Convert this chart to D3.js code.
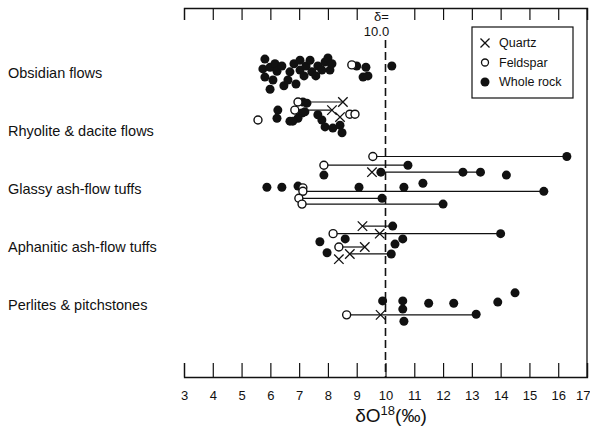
<!DOCTYPE html>
<html>
<head>
<meta charset="utf-8">
<script src="https://cdn.jsdelivr.net/npm/d3@7"></script>
<style>
  body { margin: 0; background: #fff; }
  text { font-family: "Liberation Sans", Arial, sans-serif; fill: #111; }
</style>
</head>
<body>
<div class="chart"></div>
<script>
// categories (top to bottom)
var categories = ["Obsidian flows", "Rhyolite & dacite flows", "Glassy ash-flow tuffs",
                  "Aphanitic ash-flow tuffs", "Perlites & pitchstones"];
var tickValues = [3, 4, 5, 6, 7, 8, 9, 10, 11, 12, 13, 14, 15, 16, 17];

// [category index, delta O18, row within the category]
var wholeRock = [
  [0,5.81,-2.4],[0,5.74,-0.7],[0,5.99,-1.0],[0,6.16,-1.6],[0,6.23,-0.3],[0,5.81,0.7],[0,6.09,1.2],[0,5.99,2.8],
  [0,6.40,-1.2],[0,6.47,2.2],[0,6.68,-0.2],[0,6.61,1.2],[0,6.82,-1.6],[0,7.03,-2.2],[0,7.03,-0.5],[0,6.89,1.9],
  [0,7.24,-1.2],[0,7.17,0.5],[0,7.38,-2.2],[0,7.44,-0.2],[0,7.65,-1.2],[0,7.58,0.5],[0,7.79,-0.5],[0,7.90,-1.9],
  [0,8.00,-2.6],[0,8.07,-0.5],[0,8.14,-1.6],[0,9.00,-1.2],[0,9.32,-1.0],[0,9.22,0.7],[0,9.39,0.5],[0,10.22,-1.2],
  [1,6.26,-3.6],[1,6.23,-2.2],[1,7.13,-5.0],[1,7.27,-4.8],[1,7.20,-3.3],[1,7.10,-3.1],[1,6.96,-2.2],[1,6.68,-1.7],
  [1,6.78,-1.7],[1,7.65,-2.8],[1,7.79,-1.9],[1,7.90,-0.7],[1,8.17,-0.5],[1,8.42,-1.0],[1,8.49,0.3],
  [2,16.3,-5.6],[2,10.78,-4.1],[2,7.86,-2.4],[2,9.84,-2.9],[2,12.69,-2.9],[2,13.3,-2.9],[2,14.2,-2.4],
  [2,5.88,-0.3],[2,6.40,-0.3],[2,6.96,-0.5],[2,9.08,-0.3],[2,10.64,-0.3],[2,11.3,-1.0],[2,15.5,0.4],
  [2,9.88,1.6],[2,12.0,2.6],
  [3,10.25,-3.6],[3,14.0,-2.3],[3,7.72,-0.9],[3,8.6,-1.4],[3,10.6,-1.4],[3,10.33,-0.5],[3,10.2,1.2],[3,7.97,1.0],
  [4,9.9,-0.7],[4,10.6,-0.7],[4,10.6,0.7],[4,11.5,-0.3],[4,12.37,-0.3],[4,13.9,-0.5],[4,14.5,-2.1],
  [4,13.15,1.6],[4,10.64,2.8]
];
var feldspar = [
  [0,8.83,-1.4],
  [1,5.57,-1.9],[1,6.96,-5.0],[1,6.85,-3.6],[1,8.76,-2.9],[1,8.94,-2.9],
  [2,9.56,-5.6],[2,7.86,-4.1],[2,7.13,-0.2],[2,7.13,0.4],[2,6.99,1.6],[2,7.10,2.6],
  [3,8.18,-2.3],[3,8.38,0],
  [4,8.65,1.7]
];
var quartz = [
  [1,8.52,-5.0],[1,8.14,-3.6],[1,8.42,-2.4],
  [2,9.53,-2.9],
  [3,9.2,-3.6],[3,9.8,-2.3],[3,9.28,0],[3,8.38,2.1],[3,8.76,1.2],
  [4,9.83,1.7]
];
// [category index, from, to, row]
var tieLines = [
  [1,6.96,8.52,-5.0],[1,6.85,8.14,-3.6],
  [2,9.56,16.3,-5.6],[2,7.86,10.78,-4.1],[2,9.84,13.3,-2.9],[2,7.13,15.5,0.4],[2,6.99,9.88,1.6],[2,7.10,12.0,2.6],
  [3,9.2,10.25,-3.6],[3,8.18,14.0,-2.3],[3,8.38,9.28,0],[3,8.76,10.2,1.2],
  [4,8.65,13.15,1.7]
];
var legendItems = ["Quartz", "Feldspar", "Whole rock"];

var width = 590, height = 430;
var svg = d3.select("div.chart").append("svg")
  .attr("width", width).attr("height", height);

var x = d3.scaleLinear().domain([3, 17]).range([184, 587]);
var y = d3.scaleLinear().domain([0, 4]).range([73, 305]);
function lane(d) { return y(d[0] + d[2] / 10); }

var frameTop = 8, frameBottom = 377;

// top axis: ticks only (the 10 tick is left out, the δ= label sits there)
var topAxis = svg.append("g")
  .attr("transform", "translate(0," + frameTop + ")")
  .call(d3.axisBottom(x).tickValues(tickValues.filter(function (t) { return t !== 10; }))
    .tickSize(12).tickFormat(""));
// bottom axis with labels
var bottomAxis = svg.append("g")
  .attr("transform", "translate(0," + frameBottom + ")")
  .call(d3.axisTop(x).tickValues(tickValues).tickSize(14).tickFormat(d3.format("d")));
bottomAxis.selectAll("text")
  .attr("y", 14).attr("dy", "0.71em")
  .style("font-size", "13px").style("font-family", "Liberation Sans, Arial, sans-serif");
// last label sits against the right edge
bottomAxis.selectAll(".tick text").filter(function (d) { return d === 17; })
  .attr("text-anchor", "end").attr("x", 3);
[topAxis, bottomAxis].forEach(function (g) {
  g.select(".domain").attr("stroke", "#111").attr("stroke-width", 1.3);
  g.selectAll(".tick line").attr("stroke", "#111").attr("stroke-width", 1.2);
});

// right border
svg.append("line")
  .attr("x1", x(17)).attr("x2", x(17))
  .attr("y1", frameTop).attr("y2", frameBottom)
  .attr("stroke", "#111").attr("stroke-width", 1.3);

// reference line at 10.0
svg.append("line")
  .attr("x1", x(10)).attr("x2", x(10))
  .attr("y1", 40).attr("y2", frameBottom)
  .attr("stroke", "#111").attr("stroke-width", 1.6)
  .attr("stroke-dasharray", "8,4");
svg.append("text").attr("x", x(10) - 4).attr("y", 21)
  .attr("text-anchor", "middle").style("font-size", "13px").text("δ=");
svg.append("text").attr("x", x(10) - 9).attr("y", 36)
  .attr("text-anchor", "middle").style("font-size", "13px").text("10.0");

// category labels
svg.selectAll("text.cat")
  .data(categories).enter().append("text")
  .attr("class", "cat")
  .attr("x", 8)
  .attr("y", function (d, i) { return y(i); })
  .attr("dy", "0.35em")
  .style("font-size", "14.5px")
  .text(function (d) { return d; });

// tie lines
svg.selectAll("line.tie")
  .data(tieLines).enter().append("line")
  .attr("class", "tie")
  .attr("x1", function (d) { return x(d[1]); })
  .attr("x2", function (d) { return x(d[2]); })
  .attr("y1", function (d) { return y(d[0] + d[3] / 10); })
  .attr("y2", function (d) { return y(d[0] + d[3] / 10); })
  .attr("stroke", "#111").attr("stroke-width", 1.2);

var r = 4.5;
svg.selectAll("circle.whole")
  .data(wholeRock).enter().append("circle")
  .attr("class", "whole")
  .attr("cx", function (d) { return x(d[1]); })
  .attr("cy", lane)
  .attr("r", r)
  .attr("fill", "#111");

svg.selectAll("circle.feld")
  .data(feldspar).enter().append("circle")
  .attr("class", "feld")
  .attr("cx", function (d) { return x(d[1]); })
  .attr("cy", lane)
  .attr("r", 4)
  .attr("fill", "#fff").attr("stroke", "#111").attr("stroke-width", 1.4);

var cross = d3.symbol().type(d3.symbolX).size(60);
svg.selectAll("path.qtz")
  .data(quartz).enter().append("path")
  .attr("class", "qtz")
  .attr("transform", function (d) { return "translate(" + x(d[1]) + "," + lane(d) + ")"; })
  .attr("d", cross)
  .attr("fill", "none").attr("stroke", "#111").attr("stroke-width", 1.3);

// legend
var legend = svg.append("g").attr("transform", "translate(472,27)");
legend.append("rect").attr("width", 101).attr("height", 71)
  .attr("fill", "#fff").attr("stroke", "#111").attr("stroke-width", 1.2);
var item = legend.selectAll("g.item")
  .data(legendItems).enter().append("g")
  .attr("class", "item")
  .attr("transform", function (d, i) { return "translate(13," + (16 + i * 19.5) + ")"; });
item.append("text").attr("x", 14).attr("dy", "0.35em")
  .style("font-size", "12.5px").text(function (d) { return d; });
item.filter(function (d, i) { return i === 0; }).append("path")
  .attr("d", d3.symbol().type(d3.symbolX).size(55)).attr("fill", "none").attr("stroke", "#111").attr("stroke-width", 1.3);
item.filter(function (d, i) { return i === 1; }).append("circle")
  .attr("r", 3.5).attr("fill", "#fff").attr("stroke", "#111").attr("stroke-width", 1.3);
item.filter(function (d, i) { return i === 2; }).append("circle")
  .attr("r", 4.5).attr("fill", "#111");

// x axis title
var title = svg.append("text").attr("x", 391).attr("y", 422)
  .attr("text-anchor", "middle").style("font-size", "19px");
title.append("tspan").text("δO");
title.append("tspan").attr("dy", -7).style("font-size", "13px").text("18");
title.append("tspan").attr("dy", 7).text("(‰)");
</script>
</body>
</html>
